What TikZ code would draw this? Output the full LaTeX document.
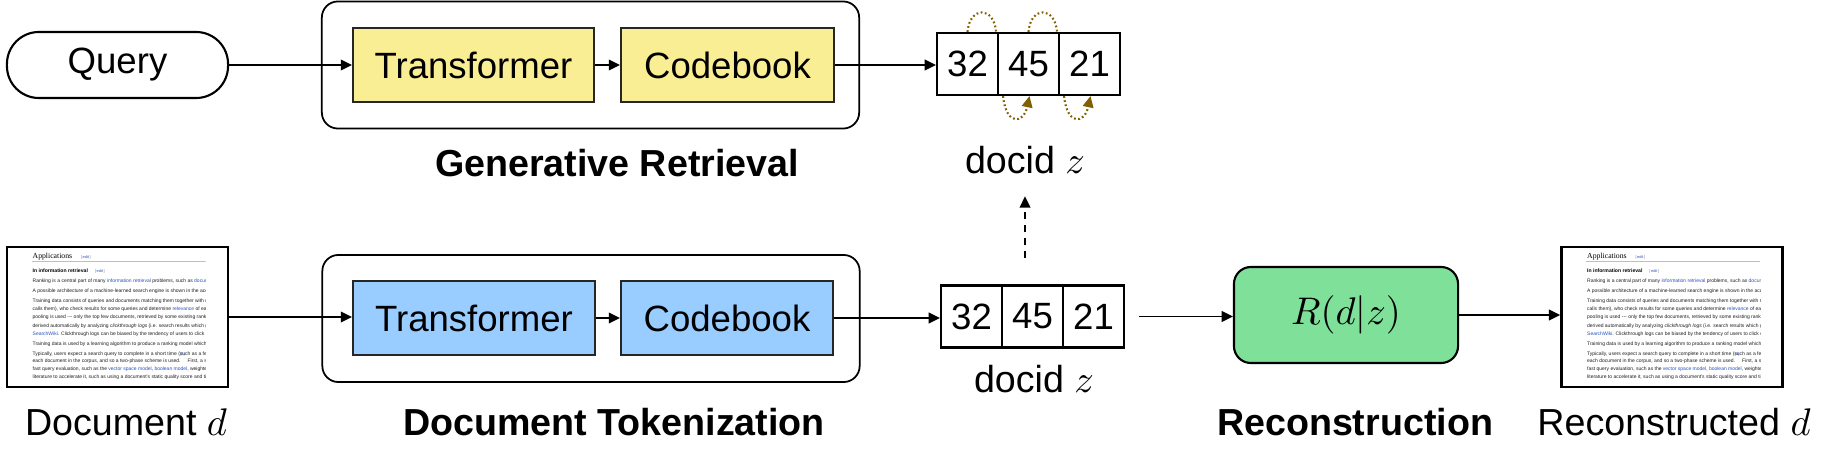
\documentclass[tikz,border=0pt]{standalone}
\usepackage[no-math]{fontspec}
\setmainfont{Liberation Sans}
\newfontfamily\wkserif{Liberation Serif}
\newfontfamily\wksans{Liberation Sans}
\usetikzlibrary{arrows.meta,calc}
\definecolor{ylw}{RGB}{250,238,148}
\definecolor{blu}{RGB}{153,204,255}
\definecolor{grn}{RGB}{127,224,154}
\definecolor{olv}{RGB}{128,96,0}
\definecolor{wkblue}{RGB}{40,80,190}
\definecolor{wktext}{RGB}{30,30,30}
\newcommand\wkl[1]{\textcolor{wkblue}{#1}}
\newcommand\wkedit{{\wksans\fontsize{1.1}{1.2}\selectfont\mdseries\textcolor{gray}{[}\,\wkl{edit}\,\textcolor{gray}{]}}}
\newcommand\wikithumb[1]{%
  \begin{scope}[shift={(#1.north west)}]
    \clip (24,0) rectangle (200,139);
    \node[wkhead] (#1h) at (26,13) {Applications\hspace{2.5pt}\wkedit};
    \draw[black!25, line width=0.15pt] (26,16) -- (200,16);
    \node[wkbold] (#1s) at (26,27) {In information retrieval\hspace{2pt}\wkedit};
    \node[wkline] (#1a) at (26,36.5) {Ranking is a central part of many \wkl{information retrieval} problems, such as \wkl{document retrieval}, collaborative};
    \node[wkline] (#1b) at (26,46.5) {A possible architecture of a machine-learned search engine is shown in the accompanying figure.};
    \node[wkline] (#1c) at (26,57) {Training data consists of queries and documents matching them together with relevance degree of};
    \node[wkline] (#1d) at (26,65) {calls them), who check results for some queries and determine \wkl{relevance} of each result. It is};
    \node[wkline] (#1e) at (26,73) {pooling is used --- only the top few documents, retrieved by some existing ranking models are};
    \node[wkline] (#1f) at (26,81.5) {derived automatically by analyzing \textit{clickthrough logs} (i.e. search results which got clicks};
    \node[wkline] (#1g) at (26,89.5) {\wkl{SearchWiki}. Clickthrough logs can be biased by the tendency of users to click on the top};
    \node[wkline] (#1i) at (26,100) {Training data is used by a learning algorithm to produce a ranking model which computes};
    \node[wkline] (#1j) at (26,110) {Typically, users expect a search query to complete in a short time (such as a few hundred};
    \node[wkline] (#1k) at (26,117) {each document in the corpus, and so a two-phase scheme is used.\textsuperscript{\wkl{[5]}} First, a small number};
    \node[wkline] (#1l) at (26,124.5) {fast query evaluation, such as the \wkl{vector space model}, \wkl{boolean model}, weighted AND, or};
    \node[wkline] (#1m) at (26,132.5) {literature to accelerate it, such as using a document's static quality score and tiered indexes};
  \end{scope}}
\begin{document}
\begin{tikzpicture}[x=0.01cm,y=-0.01cm,
  >={Triangle[length=3.2pt,width=3pt]},
  line width=0.55pt,
  every node/.style={inner sep=0pt},
  txt/.style={font=\fontsize{10.4}{12}\selectfont},
  lbl/.style={font=\bfseries\fontsize{10.7}{12}\selectfont, anchor=base},
  plainlbl/.style={font=\fontsize{10.7}{12}\selectfont, anchor=base},
  pill/.style={draw, line width=0.6pt, rounded corners=0.32cm, minimum width=2.21cm, minimum height=0.66cm, txt},
  grpbox/.style={draw, line width=0.5pt, rounded corners=0.16cm, minimum width=5.37cm, minimum height=1.27cm},
  ybox/.style={draw=black!85, fill=ylw, line width=0.5pt, minimum height=0.74cm, txt},
  bbox/.style={draw=black!85, fill=blu, line width=0.5pt, minimum height=0.74cm, txt},
  cell/.style={draw, line width=0.6pt, minimum width=0.61cm, minimum height=0.62cm, font=\fontsize{10.4}{12}\selectfont},
  thumb/.style={draw, line width=0.7pt, minimum width=2.21cm, minimum height=1.40cm},
  arr/.style={->, line width=0.55pt},
  olvdot/.style={olv, line width=0.6pt, dash pattern=on 0.5pt off 0.7pt},
  wkline/.style={anchor=base west, inner sep=0pt, font=\wksans\fontsize{1.42}{1.6}\selectfont, text=wktext},
  wkhead/.style={anchor=base west, inner sep=0pt, font=\wkserif\fontsize{2.2}{2.5}\selectfont, text=black},
  wkbold/.style={anchor=base west, inner sep=0pt, font=\wksans\bfseries\fontsize{1.45}{1.7}\selectfont, text=black}
]
\useasboundingbox (0,0) rectangle (1824,470);

% ---------- top row: generative retrieval ----------
\node[pill] (query) at (117.5,65) {Query};
\node[grpbox] (gr) at (590.5,65) {};
\node[ybox, minimum width=2.41cm] (gtf) at (473.5,65) {Transformer};
\node[ybox, minimum width=2.13cm] (gcb) at (727.5,65) {Codebook};
\node[lbl] (grl) at (617,176) {Generative Retrieval};

\node[cell] (a1) at (967.5,64) {32};
\node[cell] (a2) at (1028.5,64) {45};
\node[cell] (a3) at (1089.5,64) {21};
\node[plainlbl] (dtop) at (1025,173) {docid $z$};

% ---------- bottom row ----------
\node[thumb] (doc) at (117.5,317) {};
\wikithumb{doc}
\node[plainlbl] (docl) at (126,435) {Document $d$};

\node[grpbox] (dt) at (591,318.5) {};
\node[bbox, minimum width=2.42cm] (dtf) at (474,318) {Transformer};
\node[bbox, minimum width=2.12cm] (dcb) at (727,318) {Codebook};
\node[lbl] (dtl) at (614,435) {Document Tokenization};

\node[cell] (b1) at (971.5,316.5) {32};
\node[cell] (b2) at (1032.5,316.5) {45};
\node[cell] (b3) at (1093.5,316.5) {21};
\node[plainlbl] (dbot) at (1034,393) {docid $z$};

\node[draw, fill=grn, rounded corners=0.17cm, minimum width=2.24cm, minimum height=0.96cm, line width=0.6pt, font=\fontsize{11}{12}\selectfont] (rec) at (1346,315) {$R(d|z)$};
\node[lbl] (recl) at (1355,435) {Reconstruction};

\node[thumb] (rdoc) at (1672,317) {};
\wikithumb{rdoc}
\node[plainlbl] (rdocl) at (1674,435) {Reconstructed $d$};

% ---------- connectors ----------
\draw[arr] (query) -- (gtf);
\draw[arr] (gtf) -- (gcb);
\draw[arr] (gcb.east) -- (gcb.east -| a1.west);
\draw[arr] (doc.east) -- (doc.east -| dtf.west);
\draw[arr] (dtf) -- (dcb);
\draw[arr] (dcb.east) -- (dcb.east -| b1.west);
\draw[arr, shorten <=0.14cm] (b3.east) -- (b3.east -| rec.west);
\draw[arr] (rec.east) -- (rec.east -| rdoc.west);
\draw[arr, dash pattern=on 2pt off 1.7pt, shorten <=0.26cm, shorten >=0.22cm] (dtop.south |- b2.north) -- (dtop.south);

% autoregressive loops
\draw[olvdot] (a1.north) .. controls +(2,-26) and +(-2,-26) .. ([xshift=-0.03cm]a1.north east);
\draw[olvdot] (a2.north) .. controls +(2,-26) and +(-2,-26) .. ([xshift=-0.03cm]a2.north east);
\draw[olvdot, -{Triangle[length=3.2pt,width=3pt]}] ([xshift=0.04cm]a1.south east) .. controls +(3,30) and +(-6,28) .. ([xshift=0.01cm]a2.south);
\draw[olvdot, -{Triangle[length=3.2pt,width=3pt]}] ([xshift=0.04cm]a2.south east) .. controls +(3,30) and +(-6,28) .. ([xshift=0.01cm]a3.south);
\end{tikzpicture}
\end{document}
